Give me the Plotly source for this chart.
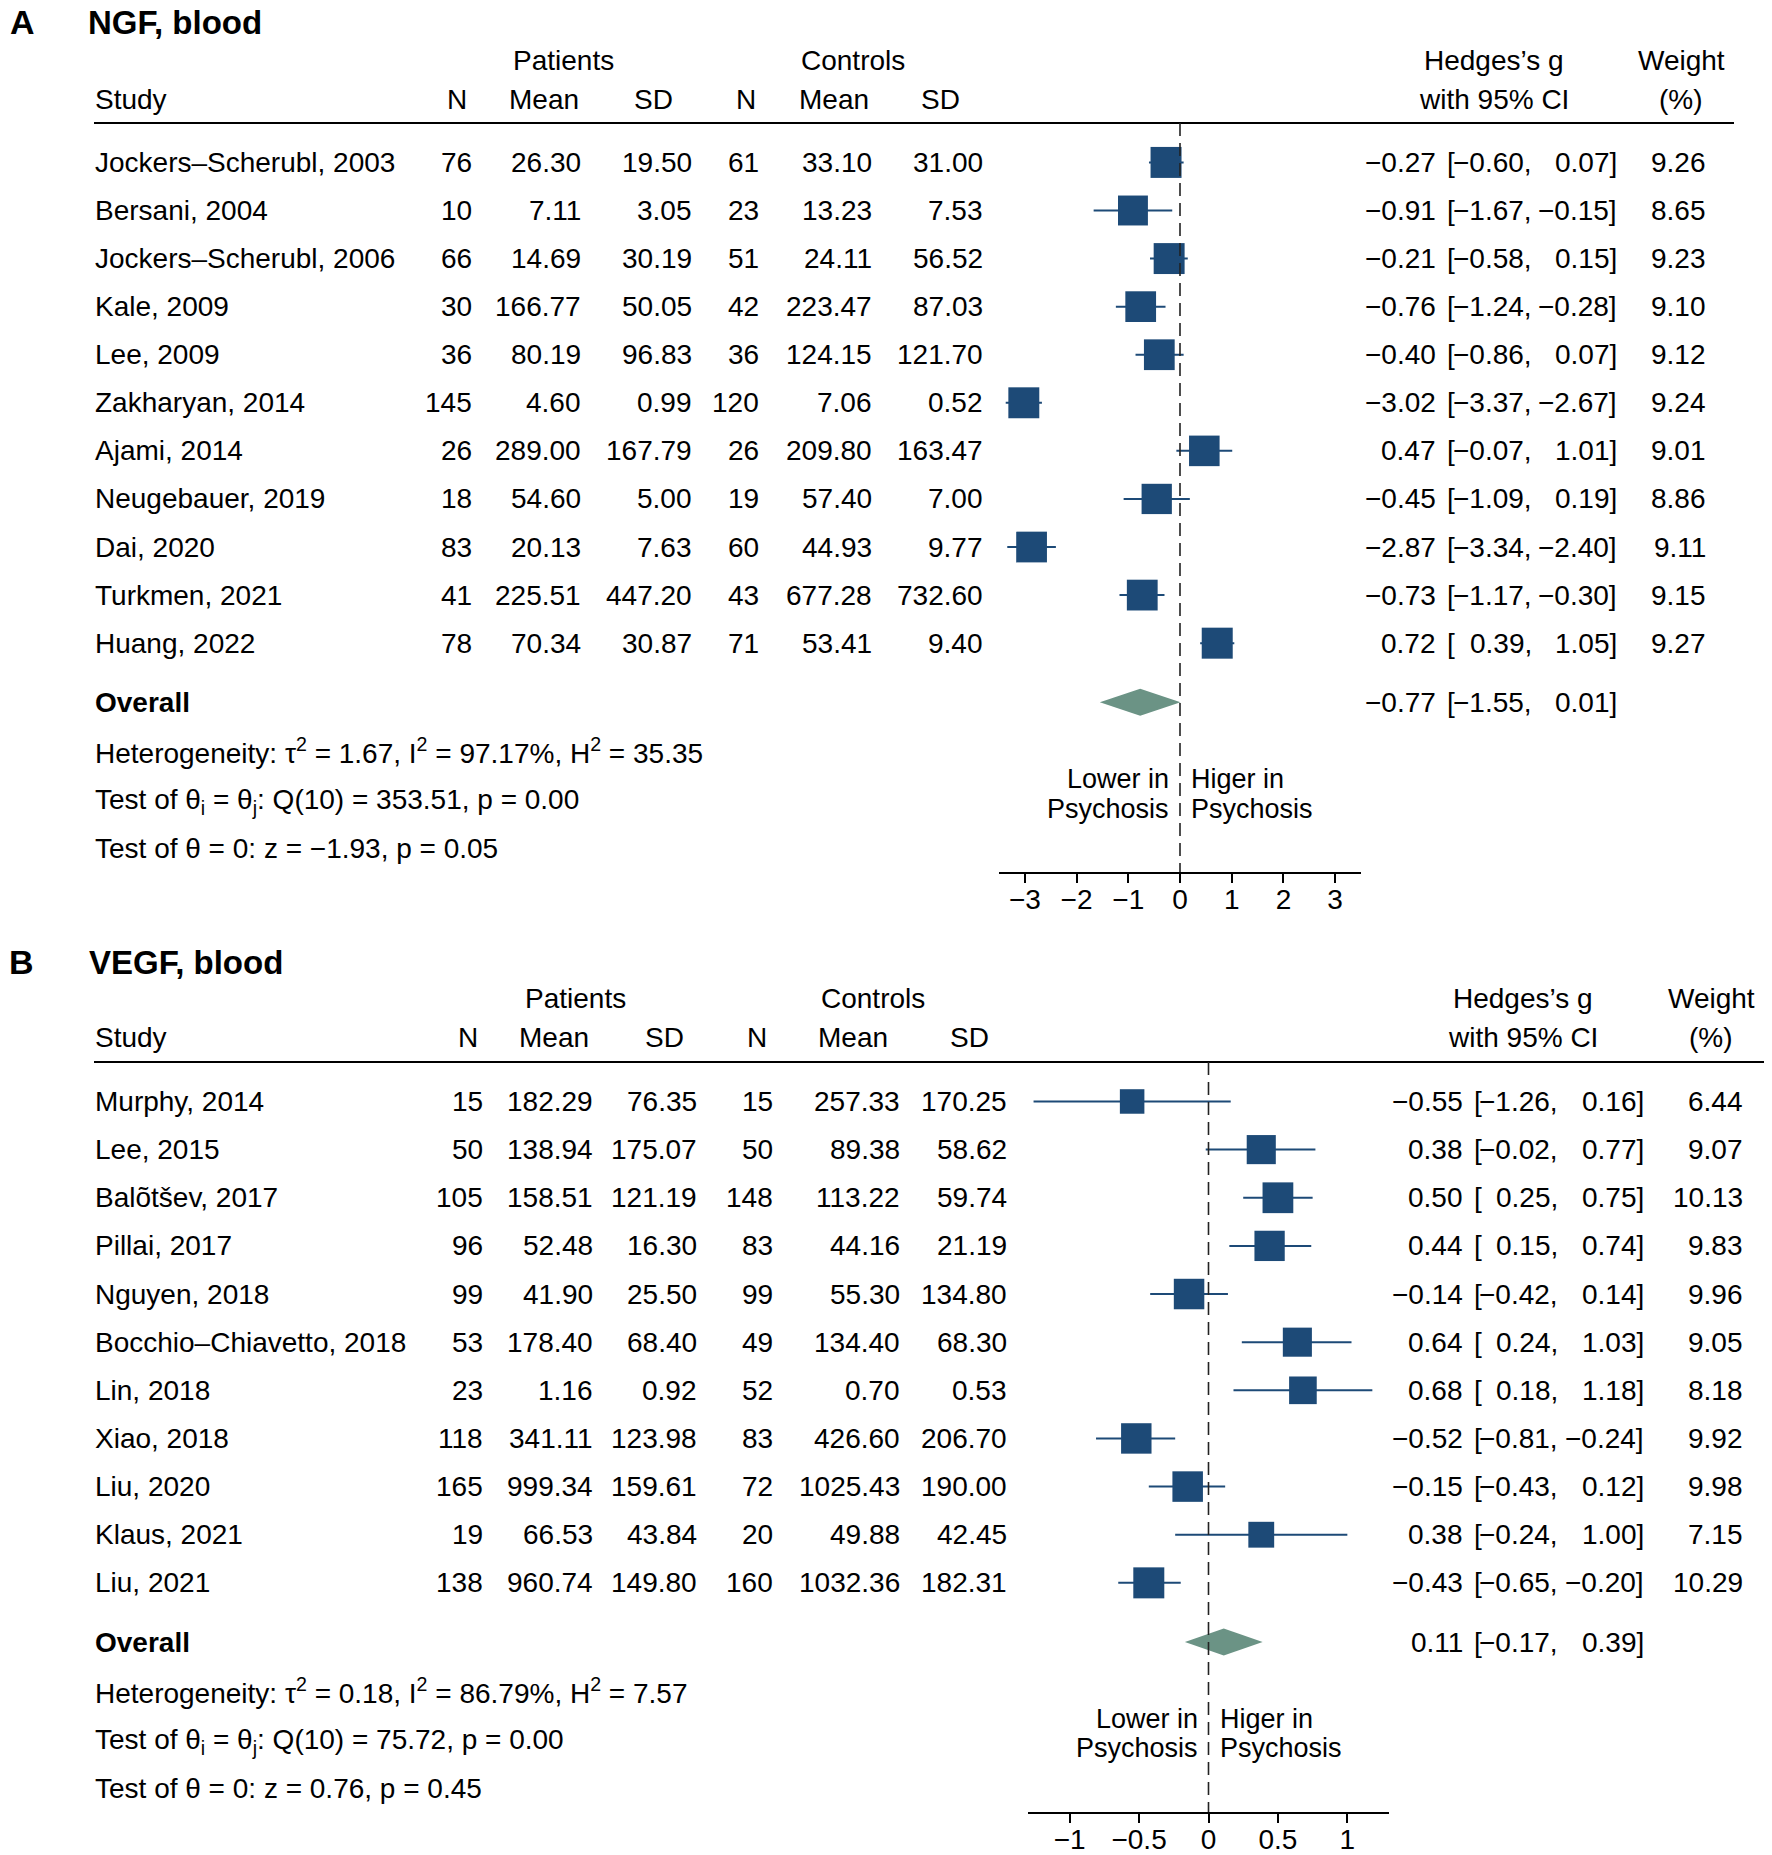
import plotly.graph_objects as go

# the page body adds an 8px margin, so the figure is sized/placed to compensate
OFF = 8
W, H = 1772 - OFF, 1855 - OFF
MINUS = "\u2212"
FONT = "Liberation Sans, Arial, Helvetica, sans-serif"
NAVY = "#1d4a77"
DIAM = "#6b9385"

# ---------------- Panel A data: NGF, blood ----------------
a_title = "NGF, blood"
a_study = ["Jockers\u2013Scherubl, 2003", "Bersani, 2004", "Jockers\u2013Scherubl, 2006", "Kale, 2009",
           "Lee, 2009", "Zakharyan, 2014", "Ajami, 2014", "Neugebauer, 2019", "Dai, 2020",
           "Turkmen, 2021", "Huang, 2022"]
a_n1 = [76, 10, 66, 30, 36, 145, 26, 18, 83, 41, 78]
a_mean1 = [26.30, 7.11, 14.69, 166.77, 80.19, 4.60, 289.00, 54.60, 20.13, 225.51, 70.34]
a_sd1 = [19.50, 3.05, 30.19, 50.05, 96.83, 0.99, 167.79, 5.00, 7.63, 447.20, 30.87]
a_n2 = [61, 23, 51, 42, 36, 120, 26, 19, 60, 43, 71]
a_mean2 = [33.10, 13.23, 24.11, 223.47, 124.15, 7.06, 209.80, 57.40, 44.93, 677.28, 53.41]
a_sd2 = [31.00, 7.53, 56.52, 87.03, 121.70, 0.52, 163.47, 7.00, 9.77, 732.60, 9.40]
a_g = [-0.27, -0.91, -0.21, -0.76, -0.40, -3.02, 0.47, -0.45, -2.87, -0.73, 0.72]
a_lo = [-0.60, -1.67, -0.58, -1.24, -0.86, -3.37, -0.07, -1.09, -3.34, -1.17, 0.39]
a_hi = [0.07, -0.15, 0.15, -0.28, 0.07, -2.67, 1.01, 0.19, -2.40, -0.30, 1.05]
a_w = [9.26, 8.65, 9.23, 9.10, 9.12, 9.24, 9.01, 8.86, 9.11, 9.15, 9.27]
a_overall = [-0.77, -1.55, 0.01]          # estimate, lower, upper
a_het = [1.67, 97.17, 35.35]              # tau^2, I^2, H^2
a_qtest = [10, 353.51, 0.00]              # df, Q, p
a_ztest = [-1.93, 0.05]                   # z, p
a_ticks = [-3, -2, -1, 0, 1, 2, 3]

# ---------------- Panel B data: VEGF, blood ----------------
b_title = "VEGF, blood"
b_study = ["Murphy, 2014", "Lee, 2015", "Bal\u00f5t\u0161ev, 2017", "Pillai, 2017", "Nguyen, 2018",
           "Bocchio\u2013Chiavetto, 2018", "Lin, 2018", "Xiao, 2018", "Liu, 2020", "Klaus, 2021",
           "Liu, 2021"]
b_n1 = [15, 50, 105, 96, 99, 53, 23, 118, 165, 19, 138]
b_mean1 = [182.29, 138.94, 158.51, 52.48, 41.90, 178.40, 1.16, 341.11, 999.34, 66.53, 960.74]
b_sd1 = [76.35, 175.07, 121.19, 16.30, 25.50, 68.40, 0.92, 123.98, 159.61, 43.84, 149.80]
b_n2 = [15, 50, 148, 83, 99, 49, 52, 83, 72, 20, 160]
b_mean2 = [257.33, 89.38, 113.22, 44.16, 55.30, 134.40, 0.70, 426.60, 1025.43, 49.88, 1032.36]
b_sd2 = [170.25, 58.62, 59.74, 21.19, 134.80, 68.30, 0.53, 206.70, 190.00, 42.45, 182.31]
b_g = [-0.55, 0.38, 0.50, 0.44, -0.14, 0.64, 0.68, -0.52, -0.15, 0.38, -0.43]
b_lo = [-1.26, -0.02, 0.25, 0.15, -0.42, 0.24, 0.18, -0.81, -0.43, -0.24, -0.65]
b_hi = [0.16, 0.77, 0.75, 0.74, 0.14, 1.03, 1.18, -0.24, 0.12, 1.00, -0.20]
b_w = [6.44, 9.07, 10.13, 9.83, 9.96, 9.05, 8.18, 9.92, 9.98, 7.15, 10.29]
b_overall = [0.11, -0.17, 0.39]
b_het = [0.18, 86.79, 7.57]
b_qtest = [10, 75.72, 0.00]
b_ztest = [0.76, 0.45]
b_ticks = [-1, -0.5, 0, 0.5, 1]


def fmt(v, nd=2):
    return f"{v:.{nd}f}".replace("-", MINUS)


fig = go.Figure()
ann = []
shapes = []

# row layout (in row units on the y axis)
Y_TOP, Y_BOT = -0.82, 14.76
ROW_OVERALL = 11.23
ROW_STATS = [12.24, 13.29, 14.27]
ROW_LOWER = [12.83, 13.44]
MAX_BOX = 31


def px(x):
    return (x - OFF) / W


def py(y):
    return 1 - (y - OFF) / H


def text(x, y, s, xref="paper", yref="paper", anchor="right", size=28, bold=False, xshift=0):
    ann.append(dict(x=x, y=y, xref=xref, yref=yref, text=(f"<b>{s}</b>" if bold else s),
                    showarrow=False, xanchor=anchor, yanchor="middle", xshift=xshift,
                    font=dict(family=FONT, size=size, color="black"), borderpad=0))


def panel(idx, title, letter, study, n1, m1, s1, n2, m2, s2, g, lo, hi, w, overall, het, qt, zt,
          ticks, cfg):
    xa = "x" if idx == 1 else "x2"
    ya = "y" if idx == 1 else "y2"
    # titles
    text(px(cfg["letter_x"]), py(cfg["title_y"]), letter, anchor="left", size=34, bold=True)
    text(px(cfg["title_x"]), py(cfg["title_y"]), title, anchor="left", size=33, bold=True)
    # headers
    text(px(cfg["pat_c"]), py(cfg["h1_y"]), "Patients", anchor="center")
    text(px(cfg["con_c"]), py(cfg["h1_y"]), "Controls", anchor="center")
    text(px(cfg["hg_c"]), py(cfg["h1_y"]), "Hedges\u2019s g", anchor="center")
    text(px(cfg["wt_c"]), py(cfg["h1_y"]), "Weight", anchor="center")
    text(px(94), py(cfg["h2_y"]), "Study", anchor="left")
    for lab, c in zip(["N", "Mean", "SD", "N", "Mean", "SD"], cfg["hdr_c"]):
        text(px(c), py(cfg["h2_y"]), lab, anchor="center")
    text(px(cfg["hg_c"]), py(cfg["h2_y"]), "with 95% CI", anchor="center")
    text(px(cfg["wt_c"]), py(cfg["h2_y"]), "(%)", anchor="center")
    shapes.append(dict(type="line", xref="paper", yref="paper", x0=px(94), x1=px(cfg["line_end"]),
                       y0=py(cfg["line_y"]), y1=py(cfg["line_y"]),
                       line=dict(color="black", width=2.2)))
    # rows
    cols = [n1, m1, s1, n2, m2, s2]
    for i in range(len(study)):
        text(px(94), i, study[i], yref=ya, anchor="left")
        for k, col in enumerate(cols):
            val = str(col[i]) if k in (0, 3) else fmt(col[i])
            text(px(cfg["col_r"][k]), i, val, yref=ya)
        text(px(cfg["ci"][0]), i, fmt(g[i]), yref=ya)
        text(px(cfg["ci"][1]), i, "[", yref=ya, anchor="left")
        text(px(cfg["ci"][2]), i, fmt(lo[i]) + ",", yref=ya)
        text(px(cfg["ci"][3]), i, fmt(hi[i]) + "]", yref=ya)
        text(px(cfg["wt_r"]), i, fmt(w[i]), yref=ya)
    # overall row
    text(px(94), ROW_OVERALL, "Overall", yref=ya, anchor="left", bold=True)
    text(px(cfg["ci"][0]), ROW_OVERALL, fmt(overall[0]), yref=ya)
    text(px(cfg["ci"][1]), ROW_OVERALL, "[", yref=ya, anchor="left")
    text(px(cfg["ci"][2]), ROW_OVERALL, fmt(overall[1]) + ",", yref=ya)
    text(px(cfg["ci"][3]), ROW_OVERALL, fmt(overall[2]) + "]", yref=ya)
    # statistics
    stats = [
        f"Heterogeneity: \u03c4<sup>2</sup> = {het[0]:.2f}, I<sup>2</sup> = {het[1]:.2f}%, H<sup>2</sup> = {het[2]:.2f}",
        f"Test of \u03b8<sub>i</sub> = \u03b8<sub>j</sub>: Q({qt[0]}) = {qt[1]:.2f}, p = {qt[2]:.2f}",
        f"Test of \u03b8 = 0: z = {fmt(zt[0])}, p = {zt[1]:.2f}",
    ]
    for r, s in zip(ROW_STATS, stats):
        text(px(94), r, s, yref=ya, anchor="left")
    # direction labels
    text(0, ROW_LOWER[0], "Lower in", xref=xa, yref=ya, anchor="right", xshift=-10, size=27)
    text(0, ROW_LOWER[1], "Psychosis", xref=xa, yref=ya, anchor="right", xshift=-10, size=27)
    text(0, ROW_LOWER[0], "Higer in", xref=xa, yref=ya, anchor="left", xshift=10, size=27)
    text(0, ROW_LOWER[1], "Psychosis", xref=xa, yref=ya, anchor="left", xshift=10, size=27)
    # null line
    shapes.append(dict(type="line", xref=xa, yref=ya, x0=0, x1=0, y0=Y_TOP, y1=Y_BOT,
                       line=dict(color="#222222", width=1.6, dash="13px,7px")))
    # study markers with CI
    wmax = max(w)
    sizes = [MAX_BOX * (wi / wmax) ** 0.5 for wi in w]
    fig.add_trace(go.Scatter(
        x=g, y=list(range(len(g))), mode="markers", xaxis=xa, yaxis=ya,
        marker=dict(symbol="square", size=sizes, color=NAVY, opacity=1, line=dict(width=0)),
        error_x=dict(type="data", symmetric=False,
                     array=[h - e for h, e in zip(hi, g)],
                     arrayminus=[e - l for e, l in zip(g, lo)],
                     color=NAVY, thickness=2, width=0),
        hoverinfo="skip"))
    # overall diamond
    hh = 0.28
    est, olo, ohi = overall
    fig.add_trace(go.Scatter(
        x=[olo, est, ohi, est, olo],
        y=[ROW_OVERALL, ROW_OVERALL - hh, ROW_OVERALL, ROW_OVERALL + hh, ROW_OVERALL],
        mode="lines", fill="toself", fillcolor=DIAM, line=dict(width=0, color=DIAM),
        xaxis=xa, yaxis=ya, hoverinfo="skip"))


cfg_a = dict(letter_x=9, title_x=87, title_y=22, h1_y=61, h2_y=99, line_y=123, line_end=1734,
             pat_c=563, con_c=853, hg_c=1494, wt_c=1681,
             hdr_c=[457, 544, 653, 746, 834, 940],
             col_r=[473, 582, 693, 760, 873, 984],
             ci=[1437, 1446, 1533, 1618], wt_r=1707,
             xdom=[999, 1361], xr=[-3.5, 3.5], ydom=[872, 123])
cfg_b = dict(letter_x=8, title_x=88, title_y=962, h1_y=999, h2_y=1037, line_y=1062, line_end=1764,
             pat_c=575, con_c=873, hg_c=1523, wt_c=1711,
             hdr_c=[468, 554, 664, 757, 853, 969],
             col_r=[484, 594, 698, 774, 901, 1008],
             ci=[1464, 1473, 1559, 1645], wt_r=1744,
             xdom=[1028, 1389], xr=[-1.3, 1.3], ydom=[1812, 1062])

panel(1, a_title, "A", a_study, a_n1, a_mean1, a_sd1, a_n2, a_mean2, a_sd2, a_g, a_lo, a_hi, a_w,
      a_overall, a_het, a_qtest, a_ztest, a_ticks, cfg_a)
panel(2, b_title, "B", b_study, b_n1, b_mean1, b_sd1, b_n2, b_mean2, b_sd2, b_g, b_lo, b_hi, b_w,
      b_overall, b_het, b_qtest, b_ztest, b_ticks, cfg_b)


def xaxis_cfg(cfg, ticks, anchor):
    return dict(domain=[px(cfg["xdom"][0]), px(cfg["xdom"][1])], range=cfg["xr"], anchor=anchor,
                showline=True, linecolor="black", linewidth=1.6, ticks="outside", ticklen=9,
                tickwidth=1.6, tickcolor="black", tickvals=ticks, showgrid=False, zeroline=False,
                ticklabelstandoff=-7,
                tickfont=dict(family=FONT, size=28, color="black"), fixedrange=True)


def yaxis_cfg(cfg, anchor):
    return dict(domain=[py(cfg["ydom"][0]), py(cfg["ydom"][1])], range=[Y_BOT, Y_TOP],
                anchor=anchor, visible=False, showgrid=False, zeroline=False, fixedrange=True)


fig.update_layout(
    width=W, height=H, margin=dict(l=0, r=0, t=0, b=0),
    paper_bgcolor="white", plot_bgcolor="rgba(0,0,0,0)", showlegend=False,
    xaxis=xaxis_cfg(cfg_a, a_ticks, "y"), yaxis=yaxis_cfg(cfg_a, "x"),
    xaxis2=xaxis_cfg(cfg_b, b_ticks, "y2"), yaxis2=yaxis_cfg(cfg_b, "x2"),
    annotations=ann, shapes=shapes,
    font=dict(family=FONT, size=28, color="black"),
)

fig.write_html("out.html")
